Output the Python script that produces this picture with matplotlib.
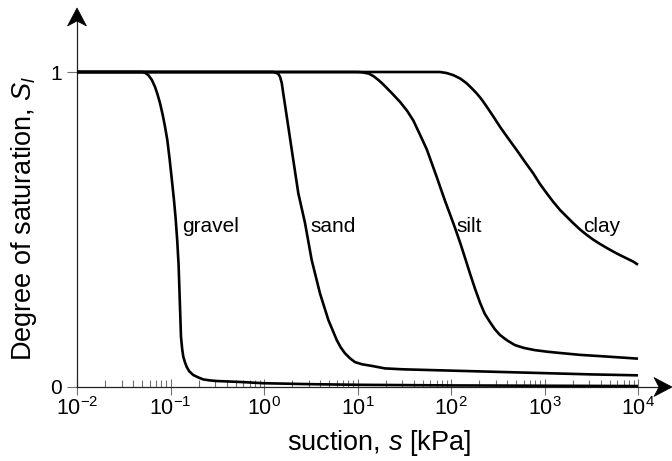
import numpy as np
import matplotlib
matplotlib.use("Agg")
import matplotlib.pyplot as plt
from matplotlib.patches import Polygon
from matplotlib.transforms import IdentityTransform
from matplotlib.ticker import LogLocator, FixedLocator, NullFormatter

plt.rcParams['font.family'] = ['Liberation Sans', 'DejaVu Sans']
plt.rcParams['mathtext.fontset'] = 'custom'
plt.rcParams['mathtext.rm'] = 'Liberation Sans'
plt.rcParams['mathtext.it'] = 'Liberation Sans:italic'
plt.rcParams['mathtext.bf'] = 'Liberation Sans:bold'

# ---- data (log10 of suction in kPa, degree of saturation) ----
gravel_logs = [-2.0, -1.40, -1.30, -1.27, -1.237, -1.20, -1.166, -1.14, -1.112, -1.085,
               -1.059, -1.034, -1.01, -0.987, -0.963, -0.945, -0.928, -0.913, -0.898,
               -0.888, -0.875, -0.863, -0.845, -0.827, -0.80, -0.756, -0.70, -0.649,
               -0.58, -0.506, -0.257, -0.007, 0.5, 1.0, 2.0, 3.0, 4.0]
gravel_S = [1.0, 1.0, 1.0, 0.997, 0.990, 0.975, 0.953, 0.93, 0.901, 0.866,
            0.827, 0.784, 0.725, 0.662, 0.594, 0.535, 0.465, 0.385, 0.25,
            0.16, 0.12, 0.096, 0.078, 0.064, 0.05, 0.038, 0.03, 0.024,
            0.021, 0.019, 0.016, 0.012, 0.009, 0.007, 0.005, 0.004, 0.003]

sand_logs = [-2.0, 0.0, 0.10, 0.15, 0.171, 0.19, 0.206, 0.23, 0.260, 0.313, 0.367, 0.439,
             0.510, 0.599, 0.688, 0.778, 0.82, 0.866, 0.92, 0.973, 1.05, 1.152, 1.294,
             1.5, 2.0, 2.5, 3.0, 3.5, 4.0]
sand_S = [1.0, 1.0, 1.0, 0.995, 0.985, 0.965, 0.932, 0.885, 0.826, 0.721, 0.615, 0.520,
          0.403, 0.297, 0.213, 0.149, 0.126, 0.107, 0.091, 0.079, 0.072, 0.067, 0.059,
          0.056, 0.052, 0.048, 0.044, 0.040, 0.037]

silt_logs = [-2.0, 1.0, 1.05, 1.12, 1.17, 1.222, 1.26, 1.294, 1.37, 1.455, 1.53, 1.597,
             1.67, 1.74, 1.79, 1.847, 1.89, 1.936, 1.99, 2.043, 2.10, 2.15, 2.20, 2.257,
             2.31, 2.36, 2.417, 2.47, 2.524, 2.60, 2.684, 2.78, 2.898, 3.03, 3.166,
             3.38, 3.594, 3.8, 4.0]
silt_S = [1.0, 1.0, 0.999, 0.995, 0.987, 0.975, 0.965, 0.955, 0.932, 0.905, 0.877, 0.846,
          0.80, 0.755, 0.714, 0.667, 0.630, 0.591, 0.548, 0.505, 0.456, 0.410, 0.363, 0.312,
          0.268, 0.233, 0.206, 0.183, 0.165, 0.148, 0.133, 0.124, 0.117, 0.112, 0.108,
          0.102, 0.098, 0.094, 0.090]

clay_logs = [-2.0, 1.80, 1.88, 1.95, 2.025, 2.10, 2.168, 2.22, 2.275, 2.33, 2.382, 2.45,
             2.524, 2.61, 2.703, 2.79, 2.880, 2.95, 3.024, 3.09, 3.166, 3.24, 3.308,
             3.38, 3.451, 3.52, 3.594, 3.68, 3.772, 3.86, 3.950, 4.0]
clay_S = [1.0, 1.0, 1.0, 0.997, 0.990, 0.979, 0.964, 0.949, 0.932, 0.912, 0.890, 0.860,
          0.826, 0.79, 0.752, 0.715, 0.678, 0.645, 0.615, 0.589, 0.562, 0.540, 0.520,
          0.50, 0.483, 0.468, 0.454, 0.439, 0.424, 0.411, 0.398, 0.388]

curve_names = ['gravel', 'sand', 'silt', 'clay']
label_logs = [-0.880, 0.492, 2.061, 3.412]
label_S = [0.493, 0.493, 0.493, 0.493]

x_ticks_exp = [-2, -1, 0, 1, 2, 3, 4]
y_ticks = [0, 1]

# ---- figure ----
fig = plt.figure(figsize=(6.72, 4.61), dpi=100)
ax = fig.add_axes([77/672, 1 - 387/461, 561/672, 315/461])
ax.set_xscale('log')
ax.set_xlim(1e-2, 1e4)
ax.set_ylim(0, 1)

for logs, S in [(gravel_logs, gravel_S), (sand_logs, sand_S),
                (silt_logs, silt_S), (clay_logs, clay_S)]:
    ax.plot(10 ** np.array(logs), S, color='black', lw=1.9, clip_on=False,
            solid_capstyle='butt', solid_joinstyle='round', zorder=3)

for name, lx, ly in zip(curve_names, label_logs, label_S):
    ax.text(10 ** lx, ly, name, fontsize=15, ha='left', va='baseline')

for sp in ax.spines.values():
    sp.set_visible(False)

# axis lines (extended with arrows)
ax.plot([0, 1.057], [0, 0], transform=ax.transAxes, color='#222222', lw=0.9,
        clip_on=False, zorder=2)
ax.plot([0, 0], [0, 1.17], transform=ax.transAxes, color='#222222', lw=0.9,
        clip_on=False, zorder=2)

def arrow_head(tip_ax, direction):
    tx, ty = ax.transAxes.transform(tip_ax)
    L, W, N = 18, 9.5, 5
    if direction == 'up':
        pts = [(tx, ty), (tx - W, ty - L), (tx, ty - L + N), (tx + W, ty - L)]
    else:
        pts = [(tx, ty), (tx - L, ty + W), (tx - L + N, ty), (tx - L, ty - W)]
    fig.add_artist(Polygon(pts, closed=True, facecolor='black', edgecolor='black',
                           lw=0.5, transform=IdentityTransform()))

arrow_head((0, (387 - 8) / 315), 'up')
arrow_head(((672 - 77) / 561, 0), 'right')

# ticks
ax.xaxis.set_major_locator(FixedLocator([10.0 ** e for e in x_ticks_exp]))
ax.set_xticklabels([r'$\mathregular{10^{%d}}$' % e for e in x_ticks_exp])
ax.xaxis.set_minor_locator(LogLocator(base=10, subs=np.arange(2, 10), numticks=20))
ax.xaxis.set_minor_formatter(NullFormatter())
ax.tick_params(axis='x', which='major', direction='inout', length=11, width=0.8,
               color='#707070', labelsize=15.5, pad=2)
ax.tick_params(axis='x', which='minor', direction='in', length=5, width=0.8,
               color='#707070')
ax.set_yticks(y_ticks)
ax.set_yticklabels([str(v) for v in y_ticks])
ax.tick_params(axis='y', which='major', direction='out', length=7, width=0.8,
               color='#707070', labelsize=15, pad=4)

ax.set_xlabel(r'suction, $s$ [kPa]', fontsize=19.5)
ax.xaxis.set_label_coords(0.538, -0.178)
ax.xaxis.label.set_va('center')
ax.set_ylabel(r'Degree of saturation, $S_l$', fontsize=19.5)
ax.yaxis.set_label_coords(-0.094, 0.535)
ax.yaxis.label.set_va('center')

fig.savefig('out.png', dpi=100)
